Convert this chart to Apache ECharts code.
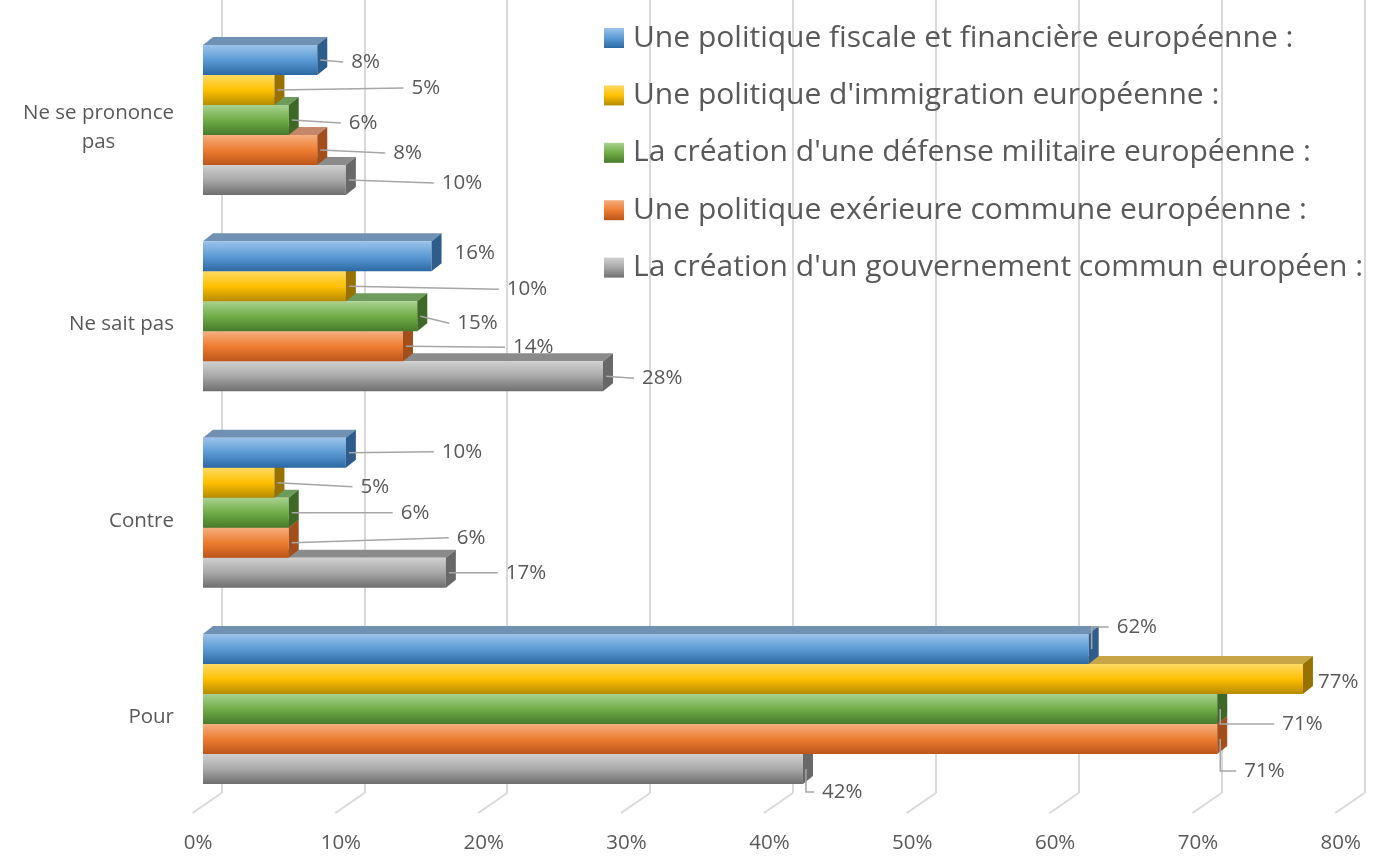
<!DOCTYPE html>
<html><head><meta charset="utf-8">
<script src="https://cdn.jsdelivr.net/npm/echarts@6/dist/echarts.min.js"></script>
<style>html,body{margin:0;padding:0;background:#fff}#c{width:1386px;height:856px}</style>
</head><body><div id="c"></div>
<script>
// ---- data ----
const categories = ['Pour', 'Contre', 'Ne sait pas', 'Ne se prononce pas'];
const seriesNames = [
  "Une politique fiscale et financière européenne :",
  "Une politique d'immigration européenne :",
  "La création d'une défense militaire européenne :",
  "Une politique exérieure commune européenne :",
  "La création d'un gouvernement commun européen :"
];
const fiscale      = [62, 10, 16, 8];
const immigration  = [77, 5, 10, 5];
const defense      = [71, 6, 15, 6];
const exterieure   = [71, 6, 14, 8];
const gouvernement = [42, 17, 28, 10];
const xTicks = [0, 10, 20, 30, 40, 50, 60, 70, 80];

// ---- styling / layout ----
const FONT = 'Open Sans';
const TXT = '#595959';
const DX = 10, DY = 8;
const palette = [
  {top:'#9cc3ea', mid:'#5b9bd5', bot:'#2c68a3', lid:'#7091b3', side:'#2e5d8c'},
  {top:'#ffda63', mid:'#ffc000', bot:'#b68b00', lid:'#c8a648', side:'#977200'},
  {top:'#a9d290', mid:'#70ad47', bot:'#477a2b', lid:'#6e9a5c', side:'#3d6826'},
  {top:'#f6ae80', mid:'#ed7d31', bot:'#bd551a', lid:'#c4876a', side:'#a24f1c'},
  {top:'#d0d0d0', mid:'#a8a8a8', bot:'#6e6e6e', lid:'#8b8b8b', side:'#686868'}
];
// label nudges (px from the bar's side face), per series, per category
const labelNudge = [
  [[18, -22], [86, -1], [13, -3], [24, 2]],
  [[5, 3], [76, 4], [151, 3], [127, -2]],
  [[55, 15], [102, 0], [30, 7], [50, 3]],
  [[17, 32], [158, -5], [100, 1], [66, 3]],
  [[9, 23], [50, 0], [29, 2], [86, 3]]
];
const seriesData = [fiscale, immigration, defense, exterieure, gouvernement];

function grad(c) {
  return new echarts.graphic.LinearGradient(0, 0, 0, 1, [
    {offset: 0, color: c.top}, {offset: 0.5, color: c.mid}, {offset: 1, color: c.bot}
  ]);
}
function geom(api, si, val, cat) {
  const p0 = api.coord([0, cat]);
  const p1 = api.coord([val, cat]);
  const band = api.size([0, 1])[1];
  const bh = band * 0.764 / 5;
  const y0 = p0[1] - 2.5 * bh + si * bh;
  return {x0: p0[0], x1: p1[0], y0: y0, bh: bh};
}

const barSeries = seriesData.map((arr, si) => ({
  type: 'custom',
  name: seriesNames[si],
  xAxisIndex: 0, yAxisIndex: 0,
  z: 10 - si,
  itemStyle: {color: grad(palette[si])},
  encode: {x: 0, y: 1},
  data: arr.map((v, i) => [v, i]),
  renderItem: (params, api) => {
    const val = api.value(0), cat = api.value(1);
    const g = geom(api, si, val, cat);
    const c = palette[si];
    const {x0, x1, y0, bh} = g;
    return {type: 'group', children: [
      {type: 'polygon', shape: {points: [[x0, y0], [x0 + DX, y0 - DY], [x1 + DX, y0 - DY], [x1, y0]]}, style: {fill: c.lid}},
      {type: 'rect', shape: {x: x0, y: y0, width: x1 - x0, height: bh}, style: {fill: grad(c)}},
      {type: 'polygon', shape: {points: [[x1, y0], [x1 + DX, y0 - DY], [x1 + DX, y0 + bh - DY], [x1, y0 + bh]]}, style: {fill: c.side}}
    ]};
  }
}));

// label layer (all points)
const labelPoints = [];
seriesData.forEach((arr, si) => arr.forEach((v, i) => labelPoints.push([v, i, si])));
const labelSeries = {
  type: 'custom',
  xAxisIndex: 0, yAxisIndex: 0,
  z: 30,
  silent: true,
  encode: {x: 0, y: 1},
  data: labelPoints,
  renderItem: (params, api) => {
    const val = api.value(0), cat = api.value(1), si = api.value(2);
    const g = geom(api, si, val, cat);
    const nudge = labelNudge[si][cat];
    const cy = g.y0 + g.bh / 2;
    const lx = g.x1 + DX + nudge[0];
    const ly = cy + nudge[1];
    const ax = g.x1 + 3;
    const ex = lx - 8;
    const children = [];
    if (Math.abs(nudge[1]) > 12) {
      children.push({type: 'polyline', shape: {points: [[ax, cy], [ax, ly], [ex, ly]]},
        style: {stroke: '#a6a6a6', lineWidth: 1.5, fill: null}});
    } else if (ex - ax > 14) {
      children.push({type: 'polyline', shape: {points: [[ax, cy], [ex, ly]]},
        style: {stroke: '#a6a6a6', lineWidth: 1.5, fill: null}});
    }
    children.push({type: 'text', style: {text: val + '%', x: lx, y: ly, verticalAlign: 'middle', align: 'left',
      fontFamily: FONT, fontSize: 20.5, fill: TXT}});
    return {type: 'group', children: children};
  }
};

// floor lines on back-wall grid
const floorSeries = {
  type: 'custom',
  xAxisIndex: 1, yAxisIndex: 1,
  z: 1, silent: true,
  encode: {x: 0, y: 1},
  data: xTicks.map(t => [t, 0]),
  renderItem: (params, api) => {
    const p = api.coord([api.value(0), 0]);
    return {type: 'line', shape: {x1: p[0], y1: p[1], x2: p[0] - 29, y2: p[1] + 20},
      style: {stroke: '#d9d9d9', lineWidth: 2}};
  }
};

const chart = echarts.init(document.getElementById('c'), null, {renderer: 'canvas'});
chart.setOption({
  animation: false,
  backgroundColor: '#fff',
  textStyle: {fontFamily: FONT},
  grid: [
    {left: 203, width: 1142.8, top: 21.8, bottom: 48.8},
    {left: 221.5, width: 1142.8, top: 0, bottom: 63}
  ],
  xAxis: [
    {type: 'value', gridIndex: 0, min: 0, max: 80, interval: 10,
      splitLine: {show: false}, axisLine: {show: false}, axisTick: {show: false},
      axisLabel: {formatter: '{value}%', fontFamily: FONT, fontSize: 20.5, color: TXT, margin: 25, padding: [0, 10, 0, 0]}},
    {type: 'value', gridIndex: 1, min: 0, max: 80, interval: 10,
      splitLine: {show: true, lineStyle: {color: '#d9d9d9', width: 2}},
      axisLine: {show: false}, axisTick: {show: false}, axisLabel: {show: false}}
  ],
  yAxis: [
    {type: 'category', gridIndex: 0, data: categories,
      axisLine: {show: false}, axisTick: {show: false}, splitLine: {show: false},
      axisLabel: {
        margin: 29, align: 'right', padding: [16, 0, 0, 0],
        formatter: (v) => {
          const lines = v.length > 14 ? [v.slice(0, v.lastIndexOf(' ')), v.slice(v.lastIndexOf(' ') + 1)] : [v];
          return lines.map(l => '{c|' + l + '}').join('\n');
        },
        rich: {c: {align: 'center', fontFamily: FONT, fontSize: 20.5, color: TXT, lineHeight: 29}}
      }},
    {type: 'value', gridIndex: 1, min: 0, max: 1, show: false}
  ],
  legend: {
    orient: 'vertical', left: 604, top: 23, padding: 0,
    itemWidth: 20, itemHeight: 20, itemGap: 27.4, icon: 'rect',
    selectedMode: false,
    data: seriesNames,
    textStyle: {fontFamily: FONT, fontSize: 30, color: TXT, lineHeight: 30, padding: [0, 0, 0, 4]}
  },
  series: [floorSeries, ...barSeries, labelSeries]
});
</script>
</body></html>
